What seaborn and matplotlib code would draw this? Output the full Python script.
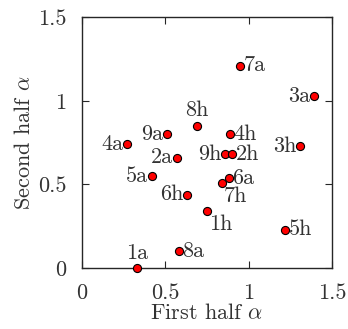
import matplotlib
matplotlib.use('Agg')
import matplotlib.pyplot as plt
import seaborn as sns
import pandas as pd

names = ['1a', '8a', '1h', '5h', '6h', '7h', '6a', '5a', '2a', '4a',
         '9a', '8h', '4h', '9h', '2h', '3h', '3a', '7a']
first_half = [0.33, 0.58, 0.75, 1.22, 0.63, 0.84, 0.88, 0.42, 0.57, 0.27,
              0.51, 0.69, 0.89, 0.86, 0.90, 1.31, 1.39, 0.95]
second_half = [0.0, 0.10, 0.34, 0.23, 0.44, 0.51, 0.54, 0.55, 0.66, 0.74,
               0.80, 0.85, 0.80, 0.68, 0.68, 0.73, 1.03, 1.21]
# where the label sits relative to its point
label_side = ['above', 'right', 'belowright', 'right', 'left', 'belowright',
              'right', 'left', 'left', 'left', 'left', 'above', 'right',
              'left', 'right', 'left', 'left', 'right']

df = pd.DataFrame({'name': names, 'first': first_half, 'second': second_half,
                   'side': label_side})

sns.set_style('ticks')
plt.rcParams['font.family'] = ['cmr10', 'DejaVu Serif']
plt.rcParams['mathtext.fontset'] = 'cm'
plt.rcParams['axes.formatter.use_mathtext'] = True
fs = 16

fig, ax = plt.subplots(figsize=(3.48, 3.29), dpi=100)
sns.scatterplot(data=df, x='first', y='second', ax=ax, color='red',
                edgecolor='black', linewidth=0.8, s=34, zorder=3, clip_on=False)

offsets = {'above': (0, 4, 'center', 'bottom'),
           'right': (2.5, 0, 'left', 'center'),
           'left': (-2.5, 0, 'right', 'center'),
           'belowright': (1.5, -2.5, 'left', 'top')}
for _, row in df.iterrows():
    dx, dy, ha, va = offsets[row['side']]
    ax.annotate(row['name'], (row['first'], row['second']), xytext=(dx, dy),
                textcoords='offset points', ha=ha, va=va, fontsize=fs,
                color='#333333')

ax.set_xlim(0, 1.5)
ax.set_ylim(0, 1.5)
ax.set_xticks([0, 0.5, 1, 1.5])
ax.set_yticks([0, 0.5, 1, 1.5])
ax.set_xticklabels(['0', '0.5', '1', '1.5'], color='#333333')
ax.set_yticklabels(['0', '0.5', '1', '1.5'], color='#333333')
ax.tick_params(axis='x', direction='in', top=True, length=5, width=0.8,
               labelsize=fs, pad=11)
ax.tick_params(axis='y', direction='in', right=True, length=5, width=0.8,
               labelsize=fs, pad=11)
for sp in ax.spines.values():
    sp.set_visible(True)
    sp.set_linewidth(1.0)
ax.set_xlabel(r'First half $\alpha$', fontsize=fs, color='#333333', labelpad=0)
ax.set_ylabel(r'Second half $\alpha$', fontsize=fs, color='#333333', labelpad=3)

fig.subplots_adjust(left=0.235, right=0.954, bottom=0.185, top=0.948)
fig.savefig('out.png', dpi=100)
